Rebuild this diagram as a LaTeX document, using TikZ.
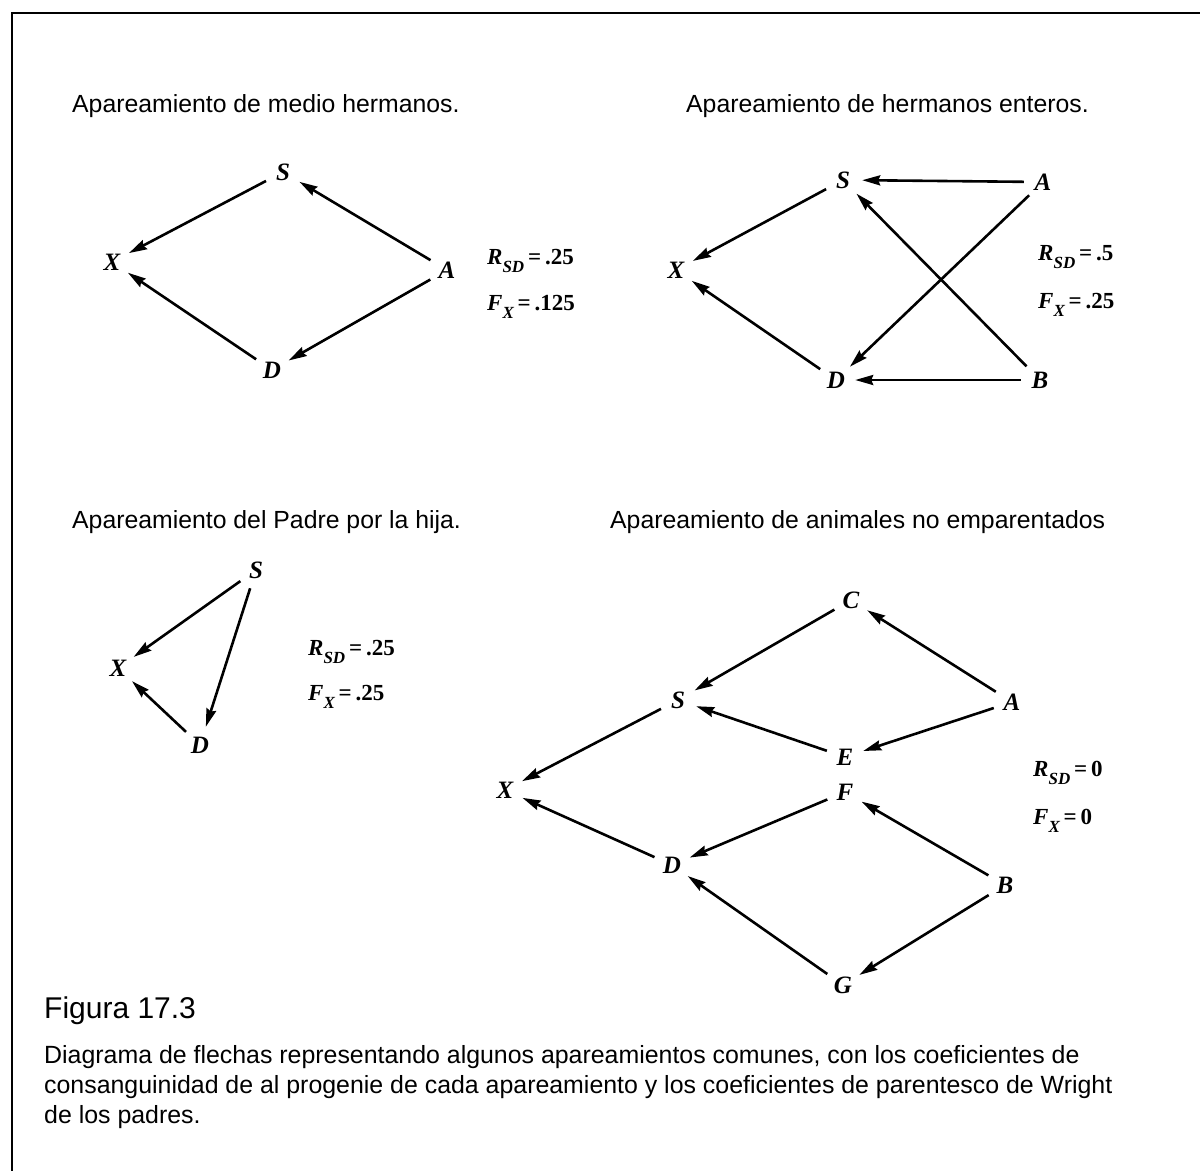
\documentclass[tikz,border=0pt]{standalone}
\usepackage{fontspec}
\setmainfont{Liberation Serif}
\setsansfont{Liberation Sans}
\usetikzlibrary{arrows.meta}
\newcommand{\myRSD}[1]{\textit{R}\raisebox{-8pt}{\fontsize{17}{17}\selectfont\itshape SD}\,=\,#1}
\newcommand{\myFX}[1]{\textit{F}\raisebox{-8pt}{\fontsize{17}{17}\selectfont\itshape X}\,=\,#1}
\begin{document}
\begin{tikzpicture}[x=1pt,y=-1pt,
  lt/.style={circle,inner sep=0pt,minimum size=38pt,font=\fontsize{25}{25}\selectfont\bfseries\itshape},
  arr/.style={-{Stealth[length=18pt,width=10pt,inset=2pt]},line width=2.6pt},
  ttl/.style={anchor=base west,inner sep=0pt,font=\sffamily\fontsize{24.8}{24.8}\selectfont},
  coef/.style={anchor=base west,inner sep=0pt,font=\fontsize{23}{23}\selectfont\bfseries},
  captxt/.style={anchor=base west,inner sep=0pt,font=\sffamily\fontsize{24.9}{24.9}\selectfont}]
\useasboundingbox (0,0) rectangle (1200,1171);
\fill[white] (0,0) rectangle (1200,1171);
\draw[line width=2pt] (1200,13) -- (12,13) -- (12,1171);

% Panel 1
\node[ttl] (t1) at (72,112) {Apareamiento de medio hermanos.};
\node[lt] (aS) at (283,172) {S};
\node[lt] (aX) at (112,262) {X};
\node[lt] (aA) at (447,270) {A};
\node[lt] (aD) at (272,370) {D};
\draw[arr] (aS) -- (aX);
\draw[arr] (aA) -- (aS);
\draw[arr] (aD) -- (aX);
\draw[arr] (aA) -- (aD);
\node[coef] (aR) at (487,264) {\myRSD{.25}};
\node[coef] (aF) at (487,310) {\myFX{.125}};

% Panel 2
\node[ttl] (t2) at (686,112) {Apareamiento de hermanos enteros.};
\node[lt] (bS) at (843,180) {S};
\node[lt] (bA) at (1043,182) {A};
\node[lt] (bX) at (676,270) {X};
\node[lt] (bD) at (836,380) {D};
\node[lt] (bB) at (1040,380) {B};
\draw[arr] (bA) -- (bS);
\draw[arr] (bS) -- (bX);
\draw[arr] (bD) -- (bX);
\draw[arr] (bB) -- (bS);
\draw[arr] (bA) -- (bD);
\draw[arr] (bB) -- (bD);
\node[coef] (bR) at (1038,260) {\myRSD{.5}};
\node[coef] (bF) at (1038,308) {\myFX{.25}};

% Panel 3
\node[ttl] (t3) at (72,528) {Apareamiento del Padre por la hija.};
\node[lt] (cS) at (256,570) {S};
\node[lt] (cX) at (118,668) {X};
\node[lt] (cD) at (200,745) {D};
\draw[arr] (cS) -- (cX);
\draw[arr] (cS) -- (cD);
\draw[arr] (cD) -- (cX);
\node[coef] (cR) at (308,655) {\myRSD{.25}};
\node[coef] (cF) at (308,700) {\myFX{.25}};

% Panel 4
\node[ttl] (t4) at (610,528) {Apareamiento de animales no emparentados};
\node[lt] (dC) at (851,600) {C};
\node[lt] (dS) at (678,700) {S};
\node[lt] (dA) at (1012,702) {A};
\node[lt] (dE) at (845,757) {E};
\node[lt] (dF) at (845,792) {F};
\node[lt] (dX) at (505,790) {X};
\node[lt] (dD) at (672,865) {D};
\node[lt] (dB) at (1005,885) {B};
\node[lt] (dG) at (843,985) {G};
\draw[arr] (dC) -- (dS);
\draw[arr] (dA) -- (dC);
\draw[arr] (dA) -- (dE);
\draw[arr] (dE) -- (dS);
\draw[arr] (dS) -- (dX);
\draw[arr] (dF) -- (dD);
\draw[arr] (dB) -- (dF);
\draw[arr] (dD) -- (dX);
\draw[arr] (dB) -- (dG);
\draw[arr] (dG) -- (dD);
\node[coef] (dR) at (1033,776) {\myRSD{0}};
\node[coef] (dF2) at (1033,824) {\myFX{0}};

% Caption
\node[anchor=base west,inner sep=0pt,font=\sffamily\fontsize{30}{30}\selectfont] (fig) at (44,1018) {Figura 17.3};
\node[captxt] (cap1) at (44,1063) {Diagrama de flechas representando algunos apareamientos comunes, con los coeficientes de};
\node[captxt] (cap2) at (44,1093) {consanguinidad de al progenie de cada apareamiento y los coeficientes de parentesco de Wright};
\node[captxt] (cap3) at (44,1123) {de los padres.};
\end{tikzpicture}
\end{document}
